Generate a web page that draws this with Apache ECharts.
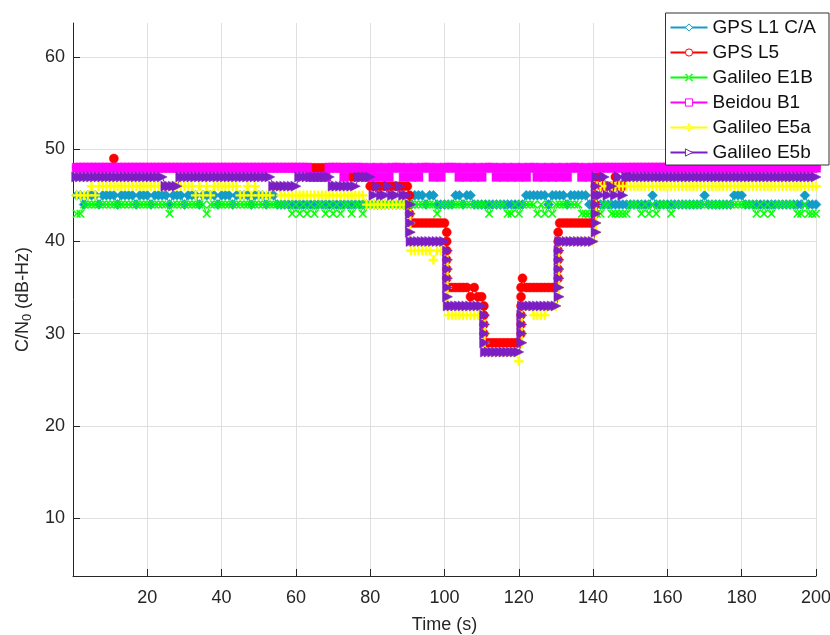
<!DOCTYPE html>
<html>
<head>
<meta charset="utf-8">
<script src="https://cdn.jsdelivr.net/npm/echarts@6/dist/echarts.min.js"></script>
<style>
  html, body { margin: 0; padding: 0; background: #fff; }
  #chart { width: 830px; height: 635px; }
</style>
</head>
<body>
<div id="chart"></div>
<script>
// sample times (s), one sample per second
const time = []
for (let t = 1; t <= 200; t++) time.push(t)

const names = ['GPS L1 C/A', 'GPS L5', 'Galileo E1B', 'Beidou B1', 'Galileo E5a', 'Galileo E5b']

// C/N0 (dB-Hz) per second
const gpsL1 = [
  45,45,44,45,45,45,44,45,45,45, 45,44,45,45,45,45,44,45,45,45,
  44,45,45,45,45,44,45,45,45,44, 45,45,45,44,45,45,45,45,44,45,
  45,45,44,45,45,45,45,44,45,45, 45,44,45,45,44,44,44,44,44,44,
  44,44,44,44,44,44,44,44,44,44, 44,44,44,44,44,44,44,44,44,44,
  44,44,44,44,44,44,44,44,44,44, 44,45,45,45,44,45,45,44,44,44,
  44,44,45,45,44,45,45,44,44,44, 44,44,44,44,44,44,44,44,44,44,
  44,45,45,45,45,45,45,44,45,45, 45,45,44,45,45,45,45,45,44,44,
  44,44,44,44,44,44,44,44,44,44, 44,44,44,44,44,45,44,44,44,44,
  44,44,44,44,44,44,44,44,44,45, 44,44,44,44,44,44,44,45,45,45,
  44,44,44,44,44,44,44,44,44,44, 44,44,44,44,44,44,45,44,44,44
]
const gpsL5 = [
  48,48,48,48,48,48,48,48,48,48, 49,48,48,48,48,48,48,48,48,48,
  48,48,48,48,48,48,48,48,48,48, 48,48,48,48,48,48,48,48,48,48,
  48,48,48,48,48,48,48,48,48,48, 48,48,48,48,48,48,48,48,48,48,
  48,48,48,48,48,48,48,48,48,48, 48,48,48,48,47,47,47,47,47,46,
  46,46,46,46,46,46,46,46,46,46, 42,42,42,42,42,42,42,42,42,42,
  35,35,35,35,35,35,34,35,34,34, 29,29,29,29,29,29,29,29,29,29,
  36,35,35,35,35,35,35,35,35,35, 42,42,42,42,42,42,42,42,42,42,
  47,47,46,46,46,47,46,46,47,48, 48,48,48,48,48,48,48,48,48,48,
  48,48,48,48,48,48,48,48,48,48, 48,48,48,48,48,48,48,48,48,48,
  48,48,48,48,48,48,48,48,48,48, 48,48,48,48,48,48,48,48,48,48
]
const galE1B = [
  43,43,44,44,44,44,44,44,44,44, 44,44,44,44,44,44,44,44,44,44,
  44,44,44,44,44,43,44,44,44,44, 44,44,44,44,44,43,44,44,44,44,
  44,44,44,44,44,44,44,44,44,44, 44,44,44,44,44,44,44,44,43,44,
  43,44,43,44,43,44,44,43,44,43, 44,43,44,44,43,44,44,43,44,44,
  44,44,44,44,44,44,44,44,44,44, 44,44,44,44,44,44,44,43,44,44,
  44,44,44,44,44,44,44,44,44,44, 44,43,44,44,44,44,43,43,44,43,
  44,44,44,44,43,44,43,44,43,44, 44,44,44,44,44,44,43,43,43,43,
  43,43,44,44,43,43,43,43,43,44, 44,44,43,44,43,44,43,44,44,44,
  43,44,44,44,44,44,44,44,44,44, 44,44,44,44,44,44,44,44,44,44,
  44,44,44,43,44,43,44,43,44,44, 44,44,44,44,43,43,44,43,43,43
]
const beidouB1 = [
  48,48,48,48,48,48,48,48,48,48, 48,48,48,48,48,48,48,48,48,48,
  48,48,48,48,48,48,48,48,48,48, 48,48,48,48,48,48,48,48,48,48,
  48,48,48,48,48,48,48,48,48,48, 48,48,48,48,48,48,48,48,48,48,
  48,48,48,47,47,47,47,47,48,48, 48,48,47,48,48,48,48,48,47,48,
  47,48,47,48,47,48,48,48,47,48, 47,48,47,48,48,48,47,48,47,48,
  48,48,48,47,48,47,48,47,48,47, 48,48,48,47,48,47,48,47,48,47,
  48,47,48,48,47,48,47,48,47,48, 47,48,47,48,48,48,47,48,47,48,
  48,48,48,48,48,48,48,48,48,48, 48,48,48,48,48,48,48,48,48,48,
  48,48,48,48,48,48,48,48,48,48, 48,48,48,48,48,48,48,48,48,48,
  48,48,48,48,48,48,48,48,48,48, 48,48,48,48,48,48,48,48,48,48
]
const galE5a = [
  45,45,45,45,46,45,46,46,46,46, 46,46,46,46,46,46,46,46,46,46,
  46,46,46,46,46,46,46,46,46,46, 46,46,45,46,45,46,45,46,46,46,
  46,46,46,46,45,45,46,45,46,45, 45,45,45,46,46,45,45,45,45,45,
  45,45,45,45,45,45,45,45,45,45, 45,45,45,45,45,45,45,45,44,44,
  44,44,44,44,44,44,44,44,44,44, 39,39,39,39,39,39,38,39,39,39,
  32,32,32,32,32,32,32,32,32,32, 28,28,28,28,28,28,28,28,28,27,
  33,33,33,32,32,32,32,33,33,33, 40,40,40,40,40,40,40,40,40,40,
  46,46,46,46,46,46,46,46,46,46, 46,46,46,46,46,46,46,46,46,46,
  46,46,46,46,46,46,46,46,46,46, 46,46,46,46,46,46,46,46,46,46,
  46,46,46,46,46,46,46,46,46,46, 46,46,46,46,46,46,46,46,46,46
]
const galE5b = [
  47,47,47,47,47,47,47,47,47,47, 47,47,47,47,47,47,47,47,47,47,
  47,47,47,47,46,46,46,46,47,47, 47,47,47,47,47,47,47,47,47,47,
  47,47,47,47,47,47,47,47,47,47, 47,47,47,46,46,46,46,46,46,46,
  47,47,47,47,47,47,47,47,47,46, 46,46,46,46,46,46,47,47,47,47,
  45,46,45,45,46,45,45,46,45,45, 40,40,40,40,40,40,40,40,40,40,
  33,33,33,33,33,33,33,33,33,33, 28,28,28,28,28,28,28,28,28,28,
  33,33,33,33,33,33,33,33,33,33, 40,40,40,40,40,40,40,40,40,40,
  47,45,47,45,46,45,47,45,47,47, 47,47,47,47,47,47,47,47,47,47,
  47,47,47,47,47,47,47,47,47,47, 47,47,47,47,47,47,47,47,47,47,
  47,47,47,47,47,47,47,47,47,47, 47,47,47,47,47,47,47,47,47,47
]

// extra samples seen stacked on the steps of the attenuation ramp [time, C/N0]
const gpsL5Steps = [
  [90.6, 45], [90.6, 44], [90.6, 43],
  [100.6, 41], [100.6, 40], [100.6, 39], [100.6, 38], [100.6, 37], [100.6, 36],
  [110.6, 33], [110.6, 32], [110.6, 31], [110.6, 30],
  [120.6, 30], [120.6, 31], [120.6, 32], [120.6, 33], [120.6, 34], [120.6, 35],
  [130.6, 36], [130.6, 37], [130.6, 38], [130.6, 39], [130.6, 40], [130.6, 41],
  [140.6, 43], [140.6, 44], [140.6, 45], [140.6, 46]
]
const galE5aSteps = [
  [90.8, 43], [90.8, 42], [90.8, 41], [90.8, 40],
  [100.8, 38], [100.8, 37], [100.8, 36], [100.8, 35], [100.8, 34], [100.8, 33],
  [110.8, 31], [110.8, 30], [110.8, 29],
  [120.8, 29], [120.8, 30], [120.8, 31], [120.8, 32],
  [130.8, 34], [130.8, 35], [130.8, 36], [130.8, 37], [130.8, 38], [130.8, 39],
  [140.8, 41], [140.8, 42], [140.8, 43], [140.8, 44], [140.8, 45]
]
const galE5bSteps = [
  [90.8, 44], [90.8, 43], [90.8, 42], [90.8, 41],
  [100.8, 39], [100.8, 38], [100.8, 37], [100.8, 36], [100.8, 35], [100.8, 34],
  [110.8, 32], [110.8, 31], [110.8, 30], [110.8, 29],
  [120.8, 29], [120.8, 30], [120.8, 31], [120.8, 32],
  [130.8, 34], [130.8, 35], [130.8, 36], [130.8, 37], [130.8, 38], [130.8, 39],
  [140.8, 41], [140.8, 42], [140.8, 43], [140.8, 44], [140.8, 45], [140.8, 46]
]

const yTicks = [10, 20, 30, 40, 50, 60]

const colors = ['#149cc8', '#ff0000', '#00ff00', '#ff00ff', '#ffff00', '#7b1fc4']
const symbols = [
  'diamond',
  'circle',
  'path://M1,0L5,4L9,0L10,1L6,5L10,9L9,10L5,6L1,10L0,9L4,5L0,1Z',
  'rect',
  'path://M4,0H6V4H10V6H6V10H4V6H0V4H4Z',
  'path://M0,0L10,5L0,10Z'
]
const sizes = [10, 9, 8, 9, 9, 10]
const values = [gpsL1, gpsL5, galE1B, beidouB1, galE5a, galE5b]
const steps = [[], gpsL5Steps, [], [], galE5aSteps, galE5bSteps]

const font = 'Liberation Sans, Arial, sans-serif'
const myChart = echarts.init(document.getElementById('chart'))

let series = values.map((vals, k) => {
  let pts = vals.map((v, i) => [time[i], v]).concat(steps[k])
  pts.sort((a, b) => a[0] - b[0])
  return {
    name: names[k],
    type: 'line',
    data: pts,
    symbol: symbols[k],
    symbolSize: sizes[k],
    showSymbol: true,
    lineStyle: { color: colors[k], width: 1 },
    itemStyle: { color: colors[k], borderColor: colors[k], borderWidth: 0.5 },
    emphasis: { disabled: true }
  }
})

let option = {
  animation: false,
  backgroundColor: '#fff',
  grid: { left: 73, right: 14, top: 23, bottom: 59, outerBoundsMode: 'none', containLabel: false },
  legend: {
    orient: 'vertical',
    right: 1,
    top: 13,
    backgroundColor: '#fff',
    borderColor: '#333',
    borderWidth: 1,
    borderRadius: 0,
    padding: [5, 13, 3, 4],
    itemWidth: 37,
    itemHeight: 9,
    itemGap: 6,
    itemStyle: { color: '#fff', borderWidth: 1 },
    textStyle: { fontFamily: font, fontSize: 19, color: '#111' },
    data: names
  },
  xAxis: {
    type: 'value',
    min: 0,
    max: 200,
    interval: 20,
    name: 'Time (s)',
    nameLocation: 'middle',
    nameGap: 40,
    nameTextStyle: { fontFamily: font, fontSize: 18, color: '#262626' },
    axisLine: { lineStyle: { color: '#262626', width: 1 } },
    axisTick: { inside: true, length: 7, lineStyle: { color: '#262626' } },
    axisLabel: {
      fontFamily: font, fontSize: 18, color: '#262626', margin: 13,
      formatter: v => (v === 0 ? '' : v)
    },
    splitLine: { show: true, lineStyle: { color: '#dfdfdf', width: 1 } }
  },
  yAxis: {
    type: 'value',
    min: 3.7,
    max: 63.7,
    name: 'C/N{sub|0} (dB-Hz)',
    nameLocation: 'middle',
    nameGap: 38,
    nameTextStyle: {
      fontFamily: font, fontSize: 18, color: '#262626',
      rich: { sub: { fontFamily: font, fontSize: 13, color: '#262626', verticalAlign: 'bottom', padding: [10, 0, 0, 0] } }
    },
    axisLine: { show: true, lineStyle: { color: '#262626', width: 1 } },
    axisTick: { show: true, inside: true, length: 7, customValues: yTicks, lineStyle: { color: '#262626' } },
    axisLabel: { fontFamily: font, fontSize: 18, color: '#262626', margin: 8, customValues: yTicks },
    splitLine: { show: true, lineStyle: { color: '#dfdfdf', width: 1 } }
  },
  series: series
}

myChart.setOption(option)
</script>
</body>
</html>
